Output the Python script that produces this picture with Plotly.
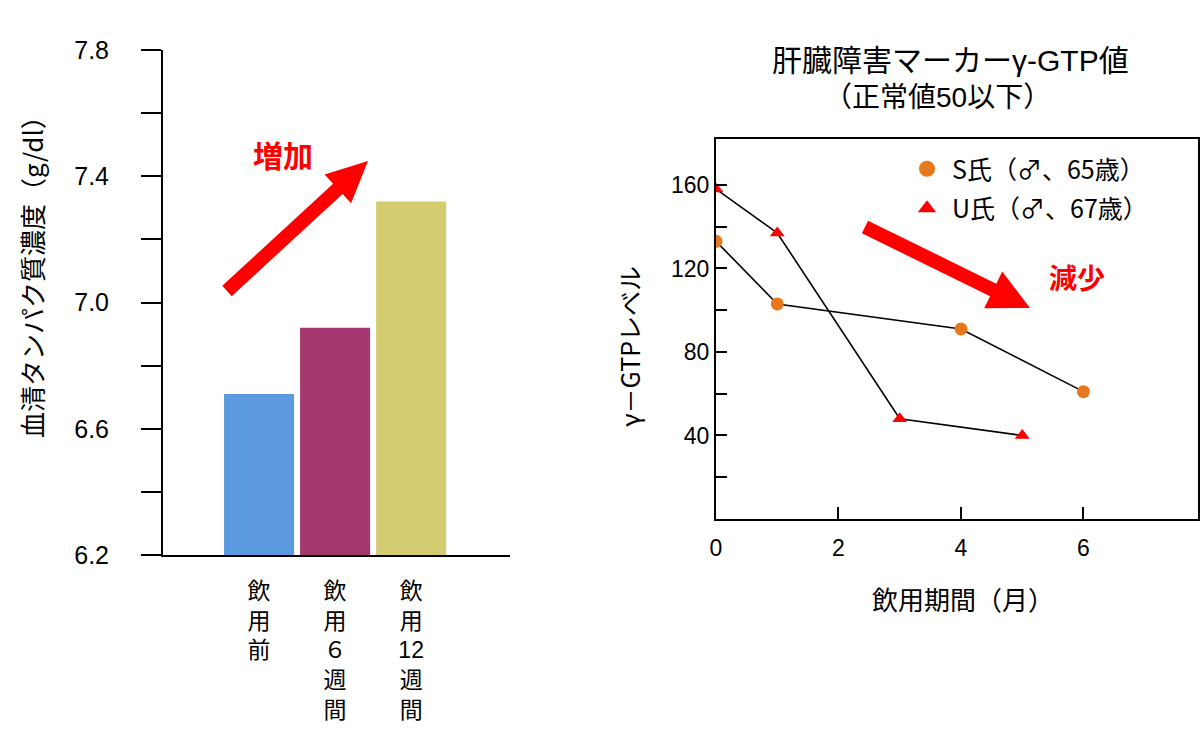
import math
import plotly.graph_objects as go

W, H = 1200, 751
FONT = "Liberation Sans, Noto Sans CJK JP"
CJK = "Noto Sans CJK JP, Liberation Sans"

# ---------------- Left chart data ----------------
bar_positions = [0, 1, 2]
bar_tick_labels = ["飲<br>用<br>前", "飲<br>用<br>６<br>週<br>間", "飲<br>用<br>12<br>週<br>間"]
bar_values = [6.71, 6.92, 7.32]
bar_colors = ["#5C9AE0", "#A3386E", "#D5CC72"]
protein_ticks = [6.2, 6.4, 6.6, 6.8, 7.0, 7.2, 7.4, 7.6, 7.8]
protein_tick_text = ["6.2", "", "6.6", "", "7.0", "", "7.4", "", "7.8"]

# ---------------- Right chart data ----------------
s_months = [0, 1, 4, 6]
s_gtp = [133, 103, 91, 61]
u_months = [0, 1, 3, 5]
u_gtp = [158, 137, 48, 40]
gtp_ticks = [20, 40, 60, 80, 100, 120, 140, 160]
gtp_tick_text = ["", "40", "", "80", "", "120", "", "160"]
month_ticks = [0, 2, 4, 6]
s_name = "S氏（♂、65歳）"
u_name = "U氏（♂、67歳）"


def px(x):
    return x / W


def py(y):
    return 1 - y / H


def arrow_path(tail, tip, sw, hw, hl):
    dx, dy = tip[0] - tail[0], tip[1] - tail[1]
    L = math.hypot(dx, dy)
    ux, uy = dx / L, dy / L
    nx, ny = -uy, ux
    bx, by = tip[0] - ux * hl, tip[1] - uy * hl
    pts = [
        (tail[0] + nx * sw / 2, tail[1] + ny * sw / 2),
        (bx + nx * sw / 2, by + ny * sw / 2),
        (bx + nx * hw / 2, by + ny * hw / 2),
        tip,
        (bx - nx * hw / 2, by - ny * hw / 2),
        (bx - nx * sw / 2, by - ny * sw / 2),
        (tail[0] - nx * sw / 2, tail[1] - ny * sw / 2),
    ]
    d = "M " + " L ".join(f"{px(x):.5f},{py(y):.5f}" for x, y in pts) + " Z"
    return dict(type="path", xref="paper", yref="paper", path=d,
                fillcolor="#FF0000", line=dict(width=0), layer="above")


fig = go.Figure()

fig.add_trace(go.Bar(
    x=bar_positions, y=bar_values, marker=dict(color=bar_colors, line=dict(width=0)),
    xaxis="x", yaxis="y", showlegend=False, hoverinfo="skip",
))

fig.add_trace(go.Scatter(
    x=s_months, y=s_gtp, mode="lines+markers", xaxis="x2", yaxis="y2",
    line=dict(color="black", width=1.6),
    marker=dict(symbol="circle", size=13, color="#E8781E"), showlegend=False,
))
fig.add_trace(go.Scatter(
    x=u_months, y=u_gtp, mode="lines+markers", xaxis="x2", yaxis="y2",
    line=dict(color="black", width=1.6),
    marker=dict(symbol="triangle-up", size=13, color="#FF0000"), showlegend=False,
))
# legend entries (markers only)
fig.add_trace(go.Scatter(
    x=[None], y=[None], mode="markers", xaxis="x2", yaxis="y2", name=s_name,
    legendgroup="s", marker=dict(symbol="circle", size=18, color="#E8781E"),
))
fig.add_trace(go.Scatter(
    x=[None], y=[None], mode="markers", xaxis="x2", yaxis="y2", name=u_name,
    legendgroup="u", marker=dict(symbol="triangle-up", size=18, color="#FF0000"),
))

axis_common = dict(showgrid=False, zeroline=False, linecolor="black", tickcolor="black",
                   fixedrange=True, automargin=False)

fig.update_layout(
    width=W, height=H, autosize=False,
    margin=dict(l=0, r=0, t=0, b=0, pad=0, autoexpand=False),
    paper_bgcolor="white", plot_bgcolor="white",
    font=dict(family=FONT, color="black"),
    bargap=0.079,
    xaxis=dict(
        **axis_common, domain=[px(163), px(510)], range=[-1.263, 3.3], anchor="y",
        showline=True, linewidth=2, tickvals=bar_positions, ticktext=bar_tick_labels,
        ticks="", ticklabelstandoff=14, tickfont=dict(size=23, family=FONT),
    ),
    yaxis=dict(
        **axis_common, domain=[py(555), py(50)], range=[6.2, 7.8], anchor="x",
        showline=True, linewidth=2, tickvals=protein_ticks, ticktext=protein_tick_text,
        ticks="outside", ticklen=20, tickwidth=2, ticklabelstandoff=27,
        tickfont=dict(size=25, family=FONT),
    ),
    xaxis2=dict(
        **axis_common, domain=[px(716), px(1198)], range=[0, 7.87], anchor="y2",
        showline=True, linewidth=2, mirror=True, tickvals=month_ticks,
        ticks="inside", ticklen=12, tickwidth=2, ticklabelstandoff=7,
        tickfont=dict(size=23, family=FONT),
    ),
    yaxis2=dict(
        **axis_common, domain=[py(519), py(139)], range=[0, 182], anchor="x2",
        showline=True, linewidth=2, mirror=True, tickvals=gtp_ticks, ticktext=gtp_tick_text,
        ticks="inside", ticklen=11, tickwidth=2, tickfont=dict(size=23, family=FONT),
    ),
    legend=dict(
        x=px(902), y=py(146), xanchor="left", yanchor="top", itemwidth=40,
        font=dict(size=25, family=CJK), bgcolor="rgba(0,0,0,0)", tracegroupgap=4,
    ),
    shapes=[
        arrow_path((227, 291), (368, 161), 14, 39, 41),
        arrow_path((865, 227), (1030, 308), 14, 41, 41),
    ],
)

ann = [
    dict(text="血清タンパク質濃度（g/dl）", x=px(31), y=py(271), textangle=-90, size=26, color="black", fam=CJK),
    dict(text="<b>増加</b>", x=px(283), y=py(154), textangle=0, size=30, color="#FF0000", fam=CJK),
    dict(text="<b>減少</b>", x=px(1077), y=py(277), textangle=0, size=28, color="#FF0000", fam=CJK),
    dict(text="肝臓障害マーカーγ-GTP値", x=px(950), y=py(61), textangle=0, size=30, color="black", fam=FONT),
    dict(text="（正常値50以下）", x=px(937), y=py(98), textangle=0, size=28, color="black", fam=FONT),
    dict(text="γ－GTPレベル", x=px(629), y=py(347), textangle=-90, size=25, color="black", fam=CJK),
    dict(text="飲用期間（月）", x=px(963), y=py(598), textangle=0, size=26, color="black", fam=CJK),
]
fig.update_layout(annotations=[
    dict(text=a["text"], x=a["x"], y=a["y"], xref="paper", yref="paper",
         xanchor="center", yanchor="middle", showarrow=False, textangle=a["textangle"],
         font=dict(size=a["size"], color=a["color"], family=a["fam"]))
    for a in ann
])

fig.write_html("out.html", config=dict(displayModeBar=False))
